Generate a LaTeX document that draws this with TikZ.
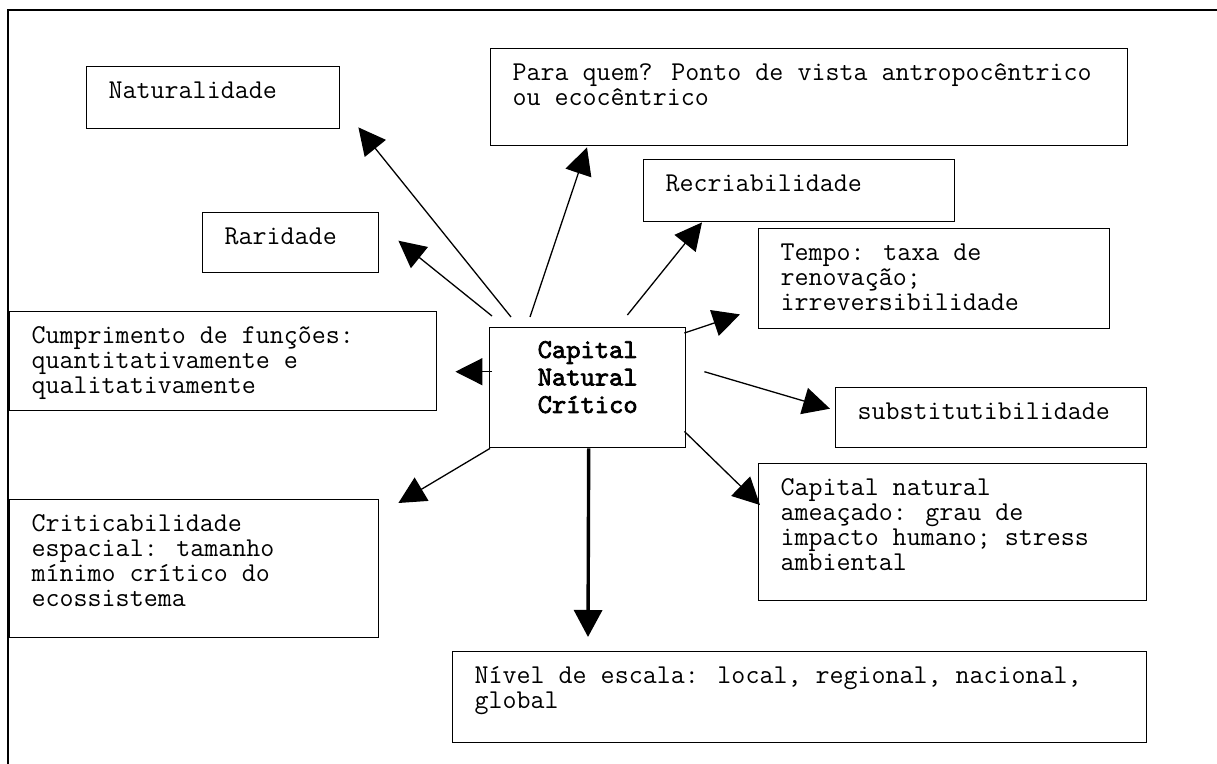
\documentclass[tikz,border=0pt]{standalone}
\usepackage{fontspec}
\newfontfamily\boldmono{lmmono10-regular.otf}[FakeBold=2.5]
\usetikzlibrary{arrows.meta}
\newdimen\pxu \pxu=0.5pt
\newcommand{\boxin}[3]{\parbox[c][#2\pxu][t]{#1\pxu}{\raggedright\leftskip=22\pxu\vspace*{14\pxu}\strut#3}}
\tikzset{
  box/.style={draw, line width=0.7pt, anchor=north west, inner sep=0pt,
    font=\ttfamily\fontsize{13.6}{12.5}\selectfont},
  arr/.style={-{Triangle[length=13.5pt,width=13.5pt]}, line width=0.65pt},
  bigarr/.style={-{Triangle[length=13.5pt,width=14pt]}, line width=1.7pt},
}
\begin{document}
\begin{tikzpicture}[x=0.5pt,y=-0.5pt]
 \useasboundingbox (0,0) rectangle (1217,764);
 \draw[line width=0.7pt] (8,764) -- (8,10) -- (1217,10);
 \node[box] (nat) at (86,66) {\boxin{253}{62}{Naturalidade}};
 \node[box] (para) at (490,48) {\boxin{637}{97}{Para quem? Ponto de vista antropocêntrico\\ou ecocêntrico}};
 \node[box] (recri) at (643,159) {\boxin{311}{62}{Recriabilidade}};
 \node[box] (rari) at (202,212) {\boxin{176}{60}{Raridade}};
 \node[box] (tempo) at (758,228) {\boxin{351}{100}{Tempo: taxa de\\renovação;\\irreversibilidade}};
 \node[box] (cump) at (9,311) {\boxin{427}{99}{Cumprimento de funções:\\quantitativamente e\\qualitativamente}};
 \node[box] (cap) at (489,327) {\parbox[c][120\pxu][t]{196\pxu}{\centering\boldmono\fontsize{13.6}{13.75}\selectfont\vspace*{11\pxu}\strut Capital\\Natural\\Crítico}};
 \node[box] (subst) at (835,387) {\boxin{311}{60}{substitutibilidade}};
 \node[box] (amea) at (758,463) {\boxin{388}{137}{Capital natural\\ameaçado: grau de\\impacto humano; stress\\ambiental}};
 \node[box] (crit) at (9,499) {\boxin{369}{138}{Criticabilidade\\espacial: tamanho\\mínimo crítico do\\ecossistema}};
 \node[box] (nivel) at (452,651) {\boxin{694}{91}{Nível de escala: local, regional, nacional,\\global}};
 \draw[arr] ([shift={(22,-10)}]cap.north west) -- ([shift={(18,-2)}]nat.south east);
 \draw[arr] ([shift={(41,-10)}]cap.north west) -- ([shift={(97,1)}]para.south west);
 \draw[arr] ([shift={(-59,-12)}]cap.north east) -- ([shift={(59,0)}]recri.south west);
 \draw[arr] ([shift={(3,-11)}]cap.north west) -- ([shift={(19,-2)}]rari.east);
 \draw[arr] ([shift={(-2,6)}]cap.north east) -- ([shift={(-18,-15)}]tempo.south west);
 \draw[arr] ([shift={(3,-16)}]cap.west) -- ([shift={(18,10.5)}]cump.east);
 \draw[arr] ([shift={(18,-16)}]cap.east) -- ([shift={(-5,-9)}]subst.west);
 \draw[arr] ([shift={(-2,-17)}]cap.south east) -- ([shift={(2,42)}]amea.north west);
 \draw[arr] ([shift={(1,0)}]cap.south west) -- ([shift={(19,4)}]crit.north east);
 \draw[bigarr] ([shift={(1,0)}]cap.south) -- ([shift={(136,-14)}]nivel.north west);
\end{tikzpicture}
\end{document}
